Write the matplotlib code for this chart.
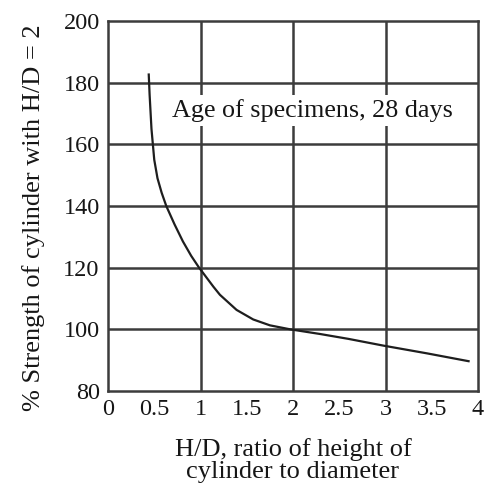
import matplotlib
matplotlib.use("Agg")
import matplotlib.pyplot as plt

# Data
hd_ratio = [0.44, 0.45, 0.47, 0.50, 0.535, 0.58, 0.63, 0.72, 0.81, 0.90, 0.98, 1.14, 1.21,
            1.39, 1.57, 1.75, 1.97, 2.29, 2.60, 2.98, 3.45, 3.91]
strength = [183, 176, 165, 155, 149, 144.3, 140, 134, 128.5, 123.8, 120.2, 113.8, 111.2,
            106.3, 103.2, 101.3, 100.0, 98.5, 96.9, 94.7, 92.2, 89.6]

x_ticks = [0, 0.5, 1, 1.5, 2, 2.5, 3, 3.5, 4]
x_tick_labels = ["0", "0.5", "1", "1.5", "2", "2.5", "3", "3.5", "4"]
y_ticks = [80, 100, 120, 140, 160, 180, 200]
annotation = "Age of specimens, 28 days"
x_label = "H/D, ratio of height of\ncylinder to diameter"
y_label = "% Strength of cylinder with H/D = 2"

plt.rcParams['font.family'] = ['Liberation Serif', 'DejaVu Serif']

fig = plt.figure(figsize=(4.94, 4.87), dpi=100)
ax = fig.add_axes([108/494, 1-391/487, 370/494, 370/487])

ax.set_xlim(0, 4)
ax.set_ylim(80, 200)

gcol = '#3c3c3c'
tcol = '#161616'
for xv in [1, 2, 3]:
    ax.axvline(xv, color=gcol, lw=1.8, zorder=1)
for yv in y_ticks[1:-1]:
    ax.axhline(yv, color=gcol, lw=1.8, zorder=1)

for s in ax.spines.values():
    s.set_color(gcol)
    s.set_linewidth(1.8)

ax.plot(hd_ratio, strength, color='#1e1e1e', lw=1.6, zorder=3,
        solid_capstyle='butt', solid_joinstyle='round')

ax.set_xticks(x_ticks)
ax.set_xticklabels(x_tick_labels)
ax.set_yticks(y_ticks)
ax.tick_params(axis='x', which='major', direction='in', length=0, pad=6, labelsize=17.5, colors=tcol)
ax.tick_params(axis='y', which='major', length=0, pad=6, labelsize=17.5, colors=tcol)
ax.set_xticks([0.5, 1.5, 2.5, 3.5], minor=True)
ax.tick_params(axis='x', which='minor', direction='in', length=10, width=1.8, color=gcol)

ax.text(2.205, 171, annotation, fontsize=18.8, ha='center', va='center',
        color=tcol, zorder=4,
        bbox=dict(facecolor='white', edgecolor='none', pad=3))

ax.set_xlabel(x_label, fontsize=19, color=tcol, labelpad=13, linespacing=1.0)
ax.set_ylabel(y_label, fontsize=19, color=tcol)
ax.yaxis.set_label_coords(-0.17, 0.468)

fig.savefig("out.png", dpi=100, facecolor='white')
